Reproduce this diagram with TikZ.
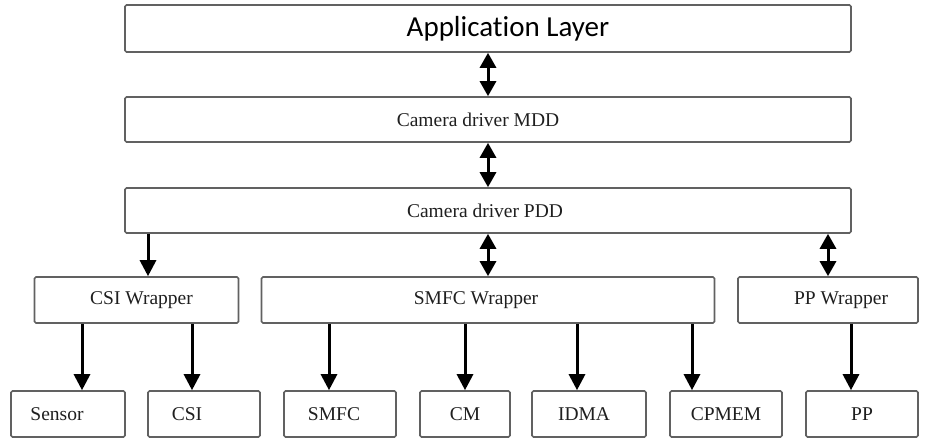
\documentclass[tikz,border=0pt]{standalone}
\usepackage{fontspec}
\setmainfont{Liberation Serif}
\newfontfamily\appfont[Ligatures=NoCommon]{Carlito}
\usetikzlibrary{arrows.meta}
\begin{document}
\begin{tikzpicture}[x=1pt,y=-1pt,
  box/.style={draw=black!62, line width=1.6pt, rounded corners=1.5pt, inner sep=0pt,
    minimum height=45pt, text=black!88, font=\fontsize{19.5}{22}\selectfont},
  arr/.style={line width=3pt, draw=black, -{Triangle[length=16pt,width=16pt]}},
  darr/.style={line width=3pt, draw=black, {Triangle[length=15pt,width=16pt]}-{Triangle[length=15pt,width=16pt]}}]
\useasboundingbox (0,0) rectangle (935,439);
% layers
\node[box, minimum width=726pt, minimum height=47pt, font=\appfont\fontsize{29}{32}\selectfont, text=black] (app) at (488,28.5) {\hspace*{40pt}Application Layer};
\node[box, minimum width=726pt] (mdd) at (488,119.5) {Camera driver MDD\hspace*{20pt}};
\node[box, minimum width=726pt] (pdd) at (488,210.5) {Camera driver PDD\hspace*{6pt}};
% wrappers
\node[box, minimum width=204pt, minimum height=46pt] (csiw) at (136.5,300) {\hspace*{10pt}CSI Wrapper};
\node[box, minimum width=453pt, minimum height=46pt] (smfcw) at (488,300) {SMFC Wrapper\hspace*{24pt}};
\node[box, minimum width=180pt, minimum height=46pt] (ppw) at (828,300) {\hspace*{26pt}PP Wrapper};
% bottom blocks
\node[box, minimum width=114pt, minimum height=46pt] (sensor) at (68,414) {Sensor\hspace*{22pt}};
\node[box, minimum width=112pt, minimum height=46pt] (csi) at (204,414) {CSI\hspace*{34pt}};
\node[box, minimum width=112pt, minimum height=46pt] (smfc) at (340,414) {SMFC\hspace*{12pt}};
\node[box, minimum width=90pt, minimum height=46pt] (cm) at (465,414) {CM};
\node[box, minimum width=114pt, minimum height=46pt] (idma) at (589,414) {IDMA\hspace*{10pt}};
\node[box, minimum width=112pt, minimum height=46pt] (cpmem) at (726,414) {CPMEM};
\node[box, minimum width=112pt, minimum height=46pt] (pp) at (862,414) {PP};
% connectors
\draw[darr] (app.south) -- (mdd.north);
\draw[darr] (mdd.south) -- (pdd.north);
\draw[arr] (pdd.south -| 148,0) -- (csiw.north -| 148,0);
\draw[darr] (pdd.south) -- (smfcw.north);
\draw[darr] (pdd.south -| ppw.north) -- (ppw.north);
\draw[arr] (csiw.south -| 82,0) -- (sensor.north -| 82,0);
\draw[arr] (csiw.south -| 192,0) -- (csi.north -| 192,0);
\draw[arr] (smfcw.south -| 329,0) -- (smfc.north -| 329,0);
\draw[arr] (smfcw.south -| cm.north) -- (cm.north);
\draw[arr] (smfcw.south -| 577,0) -- (idma.north -| 577,0);
\draw[arr] (smfcw.south -| 692,0) -- (cpmem.north -| 692,0);
\draw[arr] (ppw.south -| 851,0) -- (pp.north -| 851,0);
\end{tikzpicture}
\end{document}
